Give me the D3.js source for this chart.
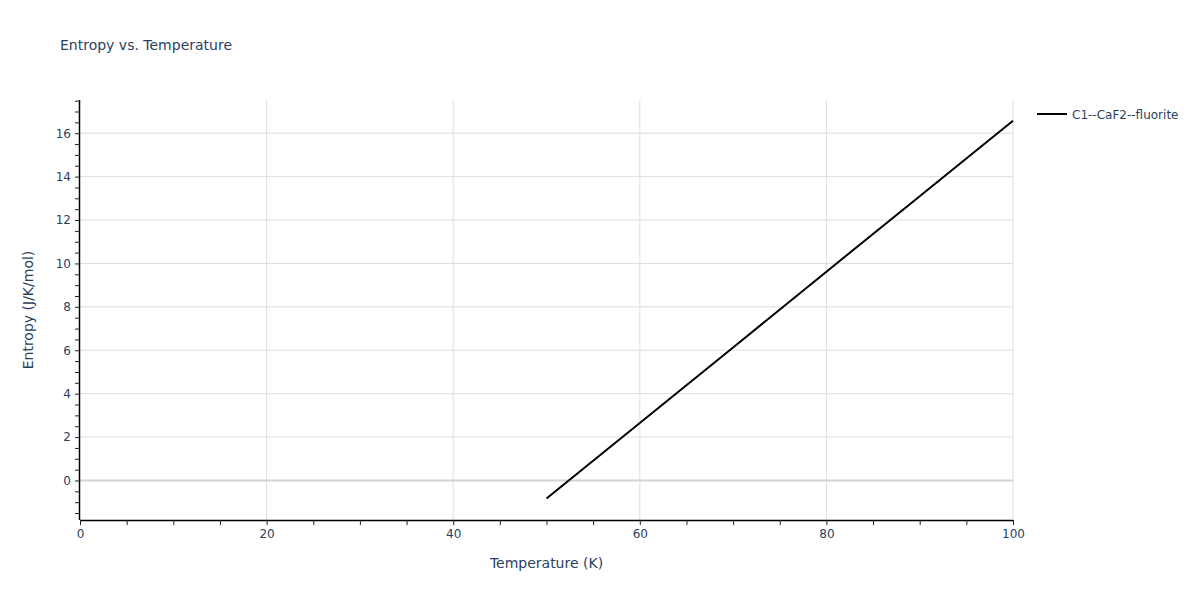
<!DOCTYPE html>
<html>
<head>
<meta charset="utf-8">
<script src="https://cdn.jsdelivr.net/npm/d3@7"></script>
<style>
  body { margin: 0; background: #fff; }
  svg { display: block; }
  text { font-family: "DejaVu Sans", verdana, sans-serif; fill: #2a3f5f; }
</style>
</head>
<body>
<svg id="chart" width="1200" height="600"></svg>
<script>
// ---- data ----
const seriesName = "C1--CaF2--fluorite";
const temperature = [50, 60, 70, 80, 90, 100];
const entropy = [-0.83, 2.65, 6.13, 9.62, 13.1, 16.57];
const xTicks = [0, 20, 40, 60, 80, 100];
const yTicks = [0, 2, 4, 6, 8, 10, 12, 14, 16];
const xDomain = [0, 100];
const yDomain = [-1.82, 17.53];

// ---- layout ----
const W = 1200, H = 600;
const m = { left: 80, right: 187, top: 100, bottom: 80 };
const pw = W - m.left - m.right, ph = H - m.top - m.bottom;
const FONT = '"DejaVu Sans", verdana, sans-serif';

const svg = d3.select("#chart");
const x = d3.scaleLinear().domain(xDomain).range([m.left, m.left + pw]);
const y = d3.scaleLinear().domain(yDomain).range([m.top + ph, m.top]);

// grid
const g = svg.append("g");
g.selectAll(".vg").data(xTicks.filter(d => d > 0)).enter().append("line")
  .attr("x1", d => x(d)).attr("x2", d => x(d))
  .attr("y1", m.top).attr("y2", m.top + ph)
  .attr("stroke", "#dedede").attr("stroke-width", 1);
g.selectAll(".hg").data(yTicks.filter(d => d !== 0)).enter().append("line")
  .attr("x1", m.left).attr("x2", m.left + pw)
  .attr("y1", d => y(d)).attr("y2", d => y(d))
  .attr("stroke", "#dedede").attr("stroke-width", 1);
// zero line
g.append("line")
  .attr("x1", m.left).attr("x2", m.left + pw)
  .attr("y1", y(0)).attr("y2", y(0))
  .attr("stroke", "#d4d4d4").attr("stroke-width", 2);

// axes
const xMinor = d3.range(0, 100.001, 5);
const yMinor = d3.range(-1.5, 17.5001, 0.5);

const xAxis = d3.axisBottom(x).tickValues(xMinor).tickSize(5)
  .tickFormat(d => xTicks.includes(d) ? d : "");
const yAxis = d3.axisLeft(y).tickValues(yMinor).tickSize(5)
  .tickFormat(d => yTicks.includes(d) ? d : "");

const gx = svg.append("g").attr("transform", `translate(0,${m.top + ph})`).call(xAxis);
const gy = svg.append("g").attr("transform", `translate(${m.left},0)`).call(yAxis);
[gx, gy].forEach(a => {
  a.select(".domain").attr("stroke", "#000").attr("stroke-width", 1.5)
    .attr("d", a === gx ? `M${m.left},0.5H${m.left + pw}` : `M-0.5,${m.top}V${m.top + ph}`);
  a.selectAll(".tick line").attr("stroke", "#222");
  a.selectAll(".tick text").style("font-size", "12px").attr("fill", "#2a3f5f")
    .style("font-family", FONT);
});
gx.selectAll(".tick text").attr("dy", "0.71em").attr("y", 9);
gy.selectAll(".tick text").attr("x", -9);

// line
const line = d3.line().x((d, i) => x(temperature[i])).y(d => y(d));
svg.append("path").datum(entropy)
  .attr("d", line).attr("fill", "none")
  .attr("stroke", "#000").attr("stroke-width", 2);

// titles
svg.append("text").attr("x", 60).attr("y", 50)
  .style("font-size", "14px").text("Entropy vs. Temperature");
svg.append("text").attr("x", m.left + pw / 2).attr("y", 568)
  .attr("text-anchor", "middle").style("font-size", "14px").text("Temperature (K)");
svg.append("text").attr("transform", `translate(33,${m.top + ph / 2}) rotate(-90)`)
  .attr("text-anchor", "middle").style("font-size", "14px").text("Entropy (J/K/mol)");

// legend
svg.append("line").attr("x1", 1037).attr("x2", 1067).attr("y1", 114).attr("y2", 114)
  .attr("stroke", "#000").attr("stroke-width", 2);
svg.append("text").attr("x", 1072).attr("y", 118.5)
  .style("font-size", "12px").text(seriesName);
</script>
</body>
</html>
